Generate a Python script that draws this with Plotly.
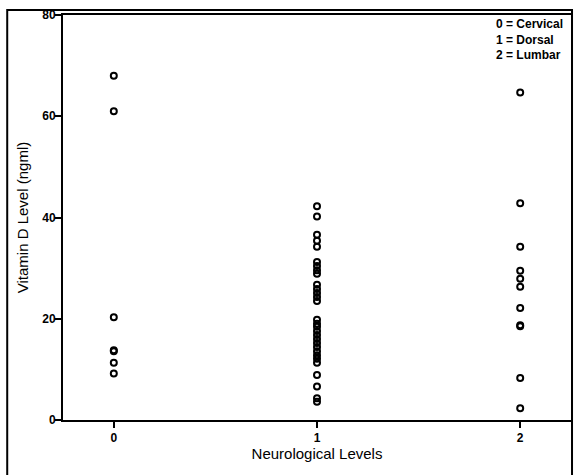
import plotly.graph_objects as go

levels_cervical = [68.0, 61.0, 20.3, 13.8, 13.6, 11.3, 9.2]
levels_dorsal = [42.2, 40.2, 36.6, 35.4, 34.2, 31.2, 30.4, 29.6, 28.9, 26.7,
                 25.9, 25.1, 24.3, 23.5, 19.8, 19.0, 18.4, 17.6, 16.8, 16.0,
                 15.2, 14.4, 13.6, 12.8, 12.1, 11.3, 8.9, 6.6, 4.3, 3.6]
levels_lumbar = [64.7, 42.8, 34.2, 29.5, 27.9, 26.3, 22.1, 18.7, 18.5, 8.3, 2.3]

categories = [0, 1, 2]
tick_labels_x = ["0", "1", "2"]
tick_vals_y = [0, 20, 40, 60, 80]
legend_text = ["0 = Cervical", "1 = Dorsal", "2 = Lumbar"]

x_vals = []
y_vals = []
for cat, vals in zip(categories, [levels_cervical, levels_dorsal, levels_lumbar]):
    x_vals += [cat] * len(vals)
    y_vals += vals

fig = go.Figure()
fig.add_trace(go.Scatter(
    x=x_vals, y=y_vals, mode="markers",
    marker=dict(symbol="circle-open", size=6, color="black", line=dict(width=2, color="black")),
    showlegend=False, hoverinfo="x+y",
))

tickfont = dict(family="Liberation Sans, Arial, sans-serif", size=12, color="black", weight="bold")
titlefont = dict(family="Liberation Sans, Arial, sans-serif", size=15, color="black")

fig.update_layout(
    width=577, height=475,
    margin=dict(l=63, r=4, t=15, b=55),
    paper_bgcolor="white", plot_bgcolor="white",
    xaxis=dict(
        range=[-0.25, 2.25], tickvals=categories, ticktext=tick_labels_x,
        showgrid=False, zeroline=False, showline=True, linecolor="black", linewidth=2,
        mirror=True, ticks="outside", ticklen=6, tickwidth=2, tickcolor="black",
        tickfont=tickfont,
        title=dict(text="Neurological Levels", font=titlefont, standoff=4),
    ),
    yaxis=dict(
        range=[0, 80], tickvals=tick_vals_y,
        showgrid=False, zeroline=False, showline=True, linecolor="black", linewidth=2,
        mirror=True, ticks="outside", ticklen=6, tickwidth=2, tickcolor="black",
        tickfont=tickfont, ticklabelstandoff=-3,
        title=dict(text="Vitamin D Level (ngml)", font=titlefont, standoff=10),
    ),
    font=dict(family="Liberation Sans, Arial, sans-serif"),
)

fig.add_annotation(
    xref="paper", yref="paper", x=0.849, y=1.0, xanchor="left", yanchor="top",
    text="<br>".join(legend_text), showarrow=False, align="left",
    font=dict(family="Liberation Sans, Arial, sans-serif", size=12, color="black", weight="bold"),
)

fig.add_shape(
    type="rect", xref="paper", yref="paper",
    x0=-0.1098, x1=1.002, y0=-0.2, y1=1.0123,
    line=dict(color="black", width=2), fillcolor="rgba(0,0,0,0)", layer="above",
)

fig.write_html("out.html")
